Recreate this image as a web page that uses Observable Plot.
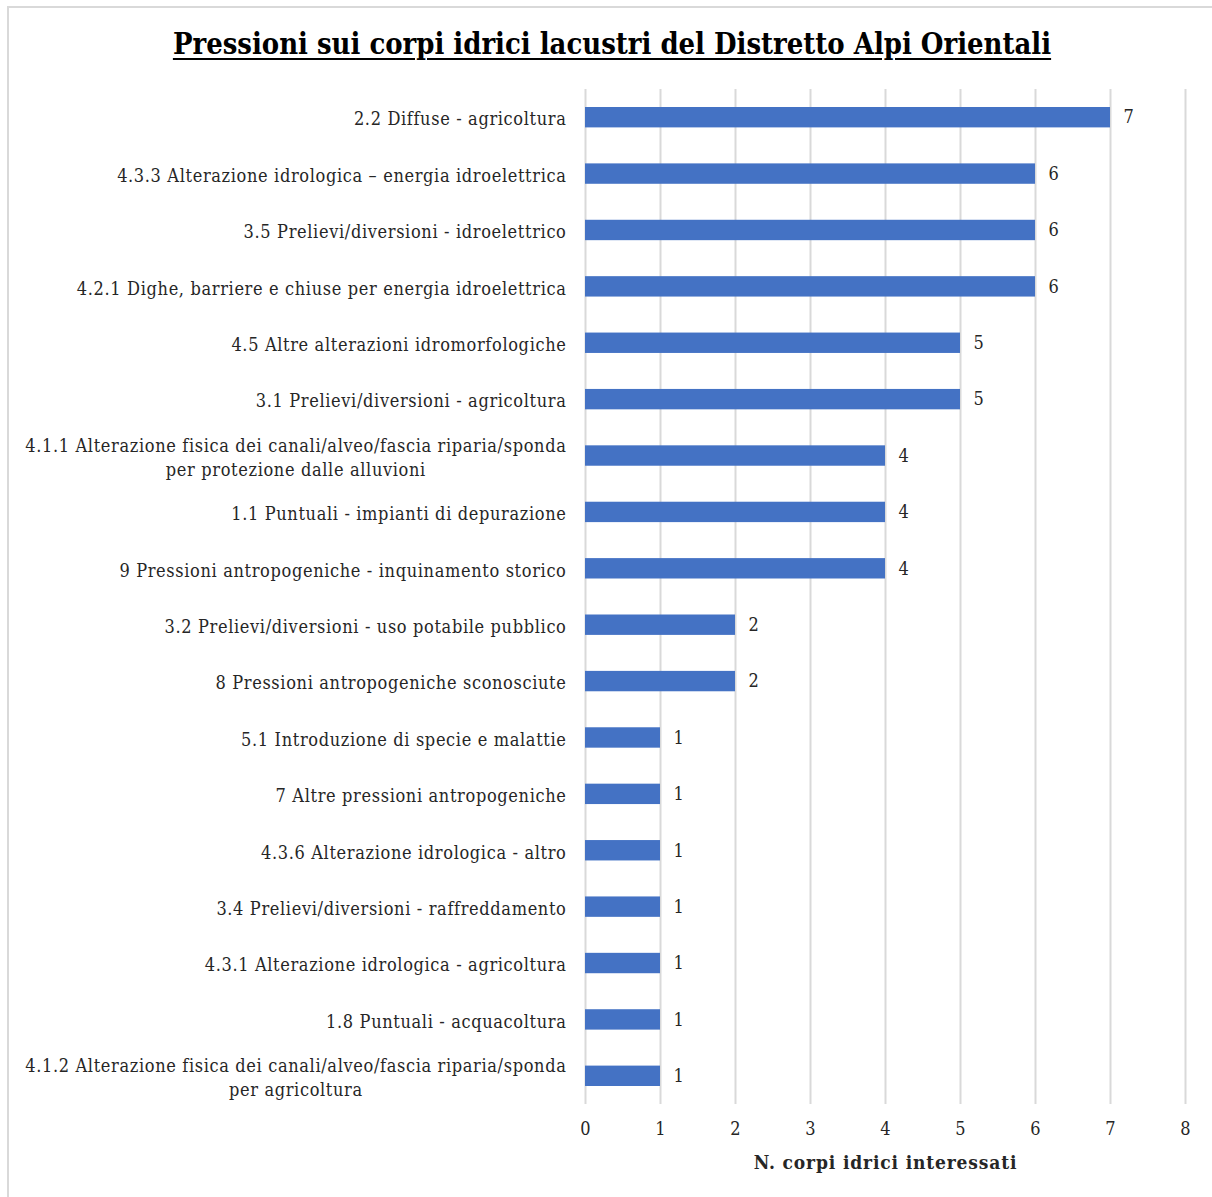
<!DOCTYPE html>
<html>
<head>
<meta charset="utf-8">
<script src="https://cdn.jsdelivr.net/npm/d3@7"></script>
<script src="https://cdn.jsdelivr.net/npm/@observablehq/plot@0.6"></script>
<style>
  html, body { margin: 0; padding: 0; background: #fff; }
  #wrap { position: relative; width: 1212px; height: 1197px; overflow: hidden; }
  #frame { position: absolute; left: 7px; top: 6px; width: 1210px; height: 1200px;
           border-left: 2px solid #d9d9d9; border-top: 2px solid #d9d9d9; }
  #title { position: absolute; left: 0; top: 27px; width: 1224px; text-align: center;
           font-family: "DejaVu Serif Condensed", "DejaVu Serif", serif; font-stretch: condensed; font-weight: bold;
           font-size: 28.9px; text-decoration: underline; text-underline-offset: 4px; text-decoration-thickness: 2px; color: #000; }
  #chart { position: absolute; left: 0; top: 0; }
  #chart svg text { font-stretch: condensed; }
  #chart svg g[aria-label="y-axis tick label"] text { letter-spacing: 0.65px; }
  #chart svg text.xlab { letter-spacing: 0.85px; }
</style>
</head>
<body>
<div id="wrap">
  <div id="frame"></div>
  <div id="chart"></div>
  <div id="title">Pressioni sui corpi idrici lacustri del Distretto Alpi Orientali</div>
</div>
<script>
const categories = [
  "2.2 Diffuse - agricoltura",
  "4.3.3 Alterazione idrologica – energia idroelettrica",
  "3.5 Prelievi/diversioni - idroelettrico",
  "4.2.1 Dighe, barriere e chiuse per energia idroelettrica",
  "4.5 Altre alterazioni idromorfologiche",
  "3.1 Prelievi/diversioni - agricoltura",
  "4.1.1 Alterazione fisica dei canali/alveo/fascia riparia/sponda\nper protezione dalle alluvioni",
  "1.1 Puntuali - impianti di depurazione",
  "9 Pressioni antropogeniche - inquinamento storico",
  "3.2 Prelievi/diversioni - uso potabile pubblico",
  "8 Pressioni antropogeniche sconosciute",
  "5.1 Introduzione di specie e malattie",
  "7 Altre pressioni antropogeniche",
  "4.3.6 Alterazione idrologica - altro",
  "3.4 Prelievi/diversioni - raffreddamento",
  "4.3.1 Alterazione idrologica - agricoltura",
  "1.8 Puntuali - acquacoltura",
  "4.1.2 Alterazione fisica dei canali/alveo/fascia riparia/sponda\nper agricoltura"
];
const values = [7, 6, 6, 6, 5, 5, 4, 4, 4, 2, 2, 1, 1, 1, 1, 1, 1, 1];
const xTicks = [0, 1, 2, 3, 4, 5, 6, 7, 8];
const xLabel = "N. corpi idrici interessati";

const data = categories.map((c, i) => ({category: c, value: values[i]}));
const font = "'DejaVu Serif Condensed', 'DejaVu Serif', serif";

const chart = Plot.plot({
  width: 1212,
  height: 1197,
  marginLeft: 585,
  marginRight: 27,
  marginTop: 89,
  marginBottom: 93,
  style: {fontFamily: font, fontSize: "18px", color: "#262626", background: "transparent"},
  x: {domain: [0, 8], ticks: xTicks},
  y: {domain: categories, padding: 0, round: false},
  marks: [
    Plot.ruleX(xTicks, {x: d => d, stroke: "#d9d9d9", strokeWidth: 2, strokeOpacity: 1}),
    Plot.barX(data, {x: "value", y: "category", fill: "#4472c4", insetTop: 18, insetBottom: 18}),
    Plot.text(data, {x: "value", y: "category", text: d => String(d.value), textAnchor: "start", dx: 13, fontSize: 18, fill: "#262626"}),
    Plot.axisY({tickSize: 0, tickPadding: 19, label: null, fontSize: 18, lineHeight: 1.35}),
    Plot.axisX({ticks: xTicks, tickSize: 0, tickPadding: 18, fontSize: 18, label: null}),
    Plot.text([xLabel], {frameAnchor: "bottom", dy: 64, text: d => d, fontWeight: "bold", fontSize: 19, fill: "#262626", className: "xlab"})
  ]
});
document.getElementById("chart").appendChild(chart);

// mark the axis title text for letter spacing
chart.querySelectorAll("g.xlab text, .xlab").forEach(el => {
  if (el.tagName === "g") el.querySelectorAll("text").forEach(t => t.classList.add("xlab"));
});

// center multi-line y-axis labels as a block, right-aligned to the axis
chart.querySelectorAll("g[aria-label='y-axis tick label'] text").forEach(t => {
  const spans = t.querySelectorAll("tspan");
  if (spans.length > 1) {
    let maxW = 0;
    spans.forEach(s => { maxW = Math.max(maxW, s.getComputedTextLength()); });
    t.setAttribute("text-anchor", "middle");
    const x0 = +(t.getAttribute("x") || 0);
    t.setAttribute("x", x0 - maxW / 2);
    spans.forEach(s => { if (s.hasAttribute("x")) s.setAttribute("x", x0 - maxW / 2); });
  }
});
</script>
</body>
</html>
